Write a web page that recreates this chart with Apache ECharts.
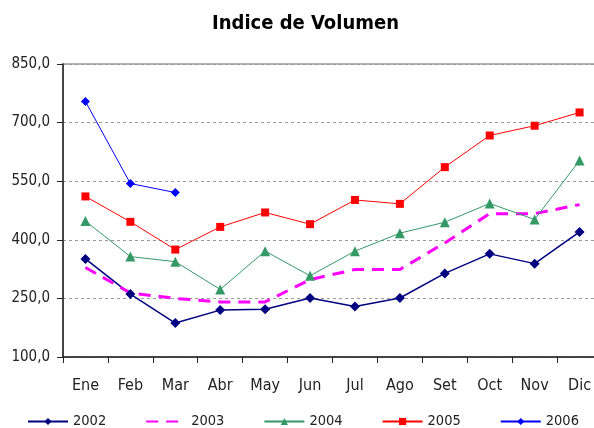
<!DOCTYPE html>
<html>
<head>
<meta charset="utf-8">
<script src="https://cdn.jsdelivr.net/npm/echarts@6/dist/echarts.min.js"></script>
<style>
  html, body { margin: 0; padding: 0; background: #fff; }
  #chart { width: 594px; height: 428px; }
</style>
</head>
<body>
<div id="chart"></div>
<script>
const months = ['Ene', 'Feb', 'Mar', 'Abr', 'May', 'Jun', 'Jul', 'Ago', 'Set', 'Oct', 'Nov', 'Dic']
const v2002 = [351, 261, 187, 220, 222, 251, 229, 251, 314, 364, 339, 420]
const v2003 = [329, 264, 250, 241, 241, 298, 324, 324, 392, 467, 467, 490]
const v2004 = [448, 357, 344, 273, 371, 308, 371, 417, 445, 493, 452, 603]
const v2005 = [511, 446, 375, 433, 470, 440, 502, 492, 586, 667, 692, 726]
const v2006 = [754, 544, 521, null, null, null, null, null, null, null, null, null]
const yTicks = [100, 250, 400, 550, 700, 850]

const font = '"Liberation Sans Narrow", "DejaVu Sans Condensed", "Liberation Sans", sans-serif'

const chart = echarts.init(document.getElementById('chart'))

const line = (name, data, color, width, symbol, size, extra) => Object.assign({
  name: name,
  type: 'line',
  data: data,
  symbol: symbol,
  symbolSize: size,
  showSymbol: symbol !== 'none',
  connectNulls: false,
  lineStyle: { color: color, width: width },
  itemStyle: { color: color },
  emphasis: { disabled: true },
}, extra || {})

chart.setOption({
  animation: false,
  title: {
    text: 'Indice de Volumen',
    left: 207,
    top: 9,
    textStyle: { fontFamily: font, fontSize: 20, fontWeight: 'bold', color: '#000' },
  },
  legend: {
    left: 27,
    top: 414,
    padding: 0,
    itemWidth: 40,
    itemHeight: 9,
    itemGap: 39,
    textStyle: { fontFamily: font, fontSize: 14.5, color: '#222' },
    data: ['2002', { name: '2003', itemStyle: { opacity: 0 } }, '2004', '2005', '2006'],
  },
  grid: {
    left: 63,
    right: -8,
    top: 64,
    bottom: 71,
    outerBoundsMode: 'none',
    show: true,
    borderColor: '#b4b4b4',
    borderWidth: 2,
  },
  xAxis: {
    type: 'category',
    data: months,
    boundaryGap: true,
    axisLine: { lineStyle: { color: '#222', width: 1.5 } },
    axisTick: { show: true, interval: 0, length: 6, lineStyle: { color: '#222' } },
    axisLabel: { interval: 0, margin: 21, fontFamily: font, fontSize: 16, color: '#222' },
  },
  yAxis: {
    type: 'value',
    min: 100,
    max: 850,
    axisLine: { show: true, lineStyle: { color: '#222', width: 1.5 } },
    axisTick: { show: true, length: 6, customValues: yTicks, lineStyle: { color: '#222' } },
    axisLabel: {
      margin: 13,
      customValues: yTicks,
      fontFamily: font,
      fontSize: 15,
      color: '#222',
      formatter: v => v.toFixed(1).replace('.', ','),
    },
    splitLine: { show: true, lineStyle: { color: '#9a9a9a', type: [3, 3], width: 1 } },
  },
  series: [
    line('2002', v2002, '#000080', 1.5, 'diamond', 10),
    line('2003', v2003, '#ff00ff', 3, 'none', 0, { lineStyle: { color: '#ff00ff', width: 3, type: [12, 8] } }),
    line('2004', v2004, '#339966', 1, 'triangle', 10),
    line('2005', v2005, '#ff0000', 1, 'rect', 8),
    line('2006', v2006, '#0000ff', 1, 'diamond', 9),
  ],
})
</script>
</body>
</html>
